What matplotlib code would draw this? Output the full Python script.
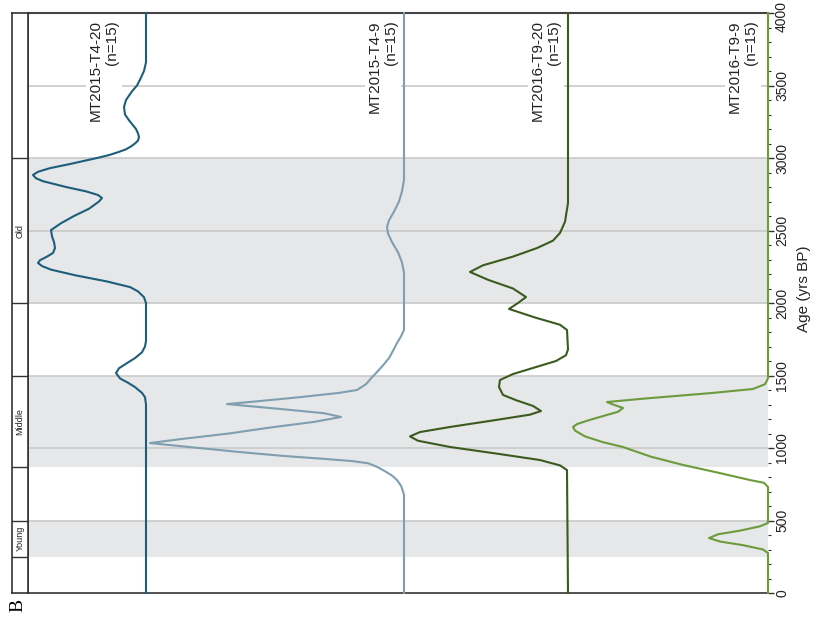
import matplotlib.pyplot as plt
from matplotlib.ticker import MultipleLocator
from matplotlib.transforms import blended_transform_factory

plt.rcParams['font.family'] = ['Liberation Sans', 'DejaVu Sans']

# age (yrs BP) and relative probability density for each sample
t4_20_age = [0, 1300, 1350, 1380, 1420, 1450, 1480, 1517, 1550, 1590, 1620, 1660, 1700, 1740,
             2000, 2040, 2080, 2110, 2150, 2190, 2230, 2255, 2276, 2295, 2320, 2345, 2379,
             2420, 2460, 2503, 2550, 2600, 2650, 2700, 2724, 2745, 2770, 2800, 2840, 2860,
             2883, 2905, 2930, 2960, 3000, 3020, 3040, 3060, 3080, 3100, 3120, 3145, 3170,
             3200, 3260, 3300, 3352, 3400, 3460, 3500, 3540, 3600, 3660, 4000]
t4_20_dens = [0, 0, 1, 4, 11, 18, 26, 30, 27, 18, 11, 4, 1, 0,
              0, 2, 8, 16, 40, 70, 95, 104, 108, 106, 99, 93, 91,
              92, 94, 95, 85, 72, 57, 47, 44, 48, 60, 80, 103, 110,
              113, 108, 96, 75, 49, 37, 28, 20, 15, 11, 8, 7, 8,
              10, 17, 21, 22, 20, 14, 9, 6, 2, 0, 0]

t4_9_age = [0, 676, 700, 740, 779, 810, 840, 870, 895, 910, 925, 945, 972, 1000, 1034,
            1060, 1100, 1140, 1180, 1214, 1240, 1270, 1303, 1320, 1350, 1380, 1400, 1440,
            1480, 1524, 1570, 1620, 1670, 1724, 1770, 1814, 2207, 2280, 2350, 2420, 2480,
            2524, 2570, 2630, 2700, 2770, 2848, 4000]
t4_9_dens = [0, 0, 1, 3, 7, 12, 19, 27, 36, 52, 80, 120, 164, 205, 254,
             225, 175, 135, 90, 63, 80, 125, 177, 150, 105, 65, 47, 38,
             33, 27, 21, 15, 11, 7, 3, 0, 0, 2, 6, 12, 16,
             17, 15, 10, 5, 2, 0, 0]

t9_20_age = [0, 848, 880, 917, 960, 1007, 1050, 1080, 1110, 1145, 1190, 1230, 1255, 1290,
             1330, 1366, 1420, 1469, 1510, 1552, 1600, 1640, 1680, 1814, 1850, 1900, 1959,
             2000, 2041, 2100, 2160, 2214, 2260, 2320, 2379, 2430, 2483, 2560, 2690, 4000]
t9_20_dens = [0, 1, 8, 28, 70, 118, 150, 158, 148, 118, 75, 38, 27, 35,
              52, 65, 69, 68, 55, 35, 12, 2, 0, 1, 8, 33, 59,
              50, 42, 55, 80, 98, 85, 55, 31, 15, 8, 3, 0, 0]

t9_9_age = [0, 276, 300, 330, 355, 379, 405, 430, 460, 483, 731, 760, 779, 830, 883, 940,
            990, 1007, 1040, 1080, 1120, 1145, 1165, 1190, 1220, 1250, 1276, 1300, 1317,
            1340, 1360, 1380, 1407, 1440, 1480, 4000]
t9_9_dens = [0, 0, 5, 25, 48, 59, 50, 28, 8, 0, 0, 4, 18, 50, 85, 117,
             138, 145, 165, 183, 193, 195, 191, 180, 165, 150, 145, 155, 161,
             125, 90, 55, 15, 3, 0, 0]

samples = ['MT2015-T4-20', 'MT2015-T4-9', 'MT2016-T9-20', 'MT2016-T9-9']
n_dates = [15, 15, 15, 15]
colors = ['#1d5e7a', '#7f9eb0', '#3b5a1e', '#6b9b3a']
series = [(t4_20_age, t4_20_dens), (t4_9_age, t4_9_dens),
          (t9_20_age, t9_20_dens), (t9_9_age, t9_9_dens)]

periods = ['Young', 'Middle', 'Old']
period_bounds = [(250, 500), (870, 1500), (2000, 3000)]

age_ticks = [0, 500, 1000, 1500, 2000, 2500, 3000, 3500, 4000]

baselines = [118, 376, 540, 740]
label_x = [91, 370, 533, 730]

fig = plt.figure(figsize=(8.17, 6.22), dpi=100)
ax = fig.add_axes([28 / 817, 29 / 622, 740 / 817, 580 / 622])
strip = fig.add_axes([12 / 817, 29 / 622, 16 / 817, 580 / 622])

for lo, hi in period_bounds:
    ax.axhspan(lo, hi, color='#e6e7e9', lw=0, zorder=0)
for g in age_ticks[1:-1]:
    ax.axhline(g, color='#cacaca', lw=1.2, zorder=1)

for (age, dens), base, col in zip(series, baselines, colors):
    xs = [base - d for d in dens]
    ax.plot(xs, age, color=col, lw=1.5, zorder=4, clip_on=False,
            solid_joinstyle='round')

for name, n, lx in zip(samples, n_dates, label_x):
    ax.text(lx, 3950, f'{name}\n(n={n})', rotation=90, ha='right', va='top',
            multialignment='right', fontsize=11, color='#222222', zorder=3,
            bbox=dict(facecolor='white', edgecolor='none', pad=2))

ax.set_xlim(0, 740)
ax.set_ylim(0, 4000)
ax.set_xticks([])
ax.yaxis.tick_right()
ax.set_yticks(age_ticks)
ax.yaxis.set_minor_locator(MultipleLocator(100))
ax.tick_params(axis='y', which='major', length=4, width=1, color='#333333',
               labelright=False)
ax.tick_params(axis='y', which='minor', length=2.5, width=0.8, color='#333333')

# tick labels written by hand so the top one stays inside the figure
trans = blended_transform_factory(ax.transAxes, ax.transData)
for t in age_ticks:
    ty = min(t, 3975)
    ax.text(1.019, ty, str(t), transform=trans, rotation=90, ha='center',
            va='center', fontsize=10, color='#222222')

ax.text(1.048, 2100, 'Age (yrs BP)', transform=trans, rotation=90,
        ha='center', va='center', fontsize=11, color='#222222')

ax.spines['right'].set_visible(False)
ax.spines['top'].set_color('#444444')
ax.spines['top'].set_linewidth(1.5)
ax.spines['bottom'].set_color('#333333')
ax.spines['bottom'].set_linewidth(1.2)
ax.spines['left'].set_color('#333333')
ax.spines['left'].set_linewidth(1.2)

# period strip on the left
strip.set_xlim(0, 1)
strip.set_ylim(0, 4000)
strip.set_xticks([])
strip.set_yticks([])
for lo, hi in period_bounds:
    strip.axhline(lo, color='#333333', lw=1)
    strip.axhline(hi, color='#333333', lw=1)
for name, (lo, hi) in zip(periods, period_bounds):
    strip.text(0.5, (lo + hi) / 2, name, rotation=90, ha='center', va='center',
               fontsize=6.5, color='#222222')
for sp in strip.spines.values():
    sp.set_color('#333333')
    sp.set_linewidth(1.2)

fig.text(18 / 817, 0.027, 'B', rotation=90, ha='center', va='center',
         fontsize=14, family='Liberation Serif')

fig.savefig('out.png', dpi=100)
